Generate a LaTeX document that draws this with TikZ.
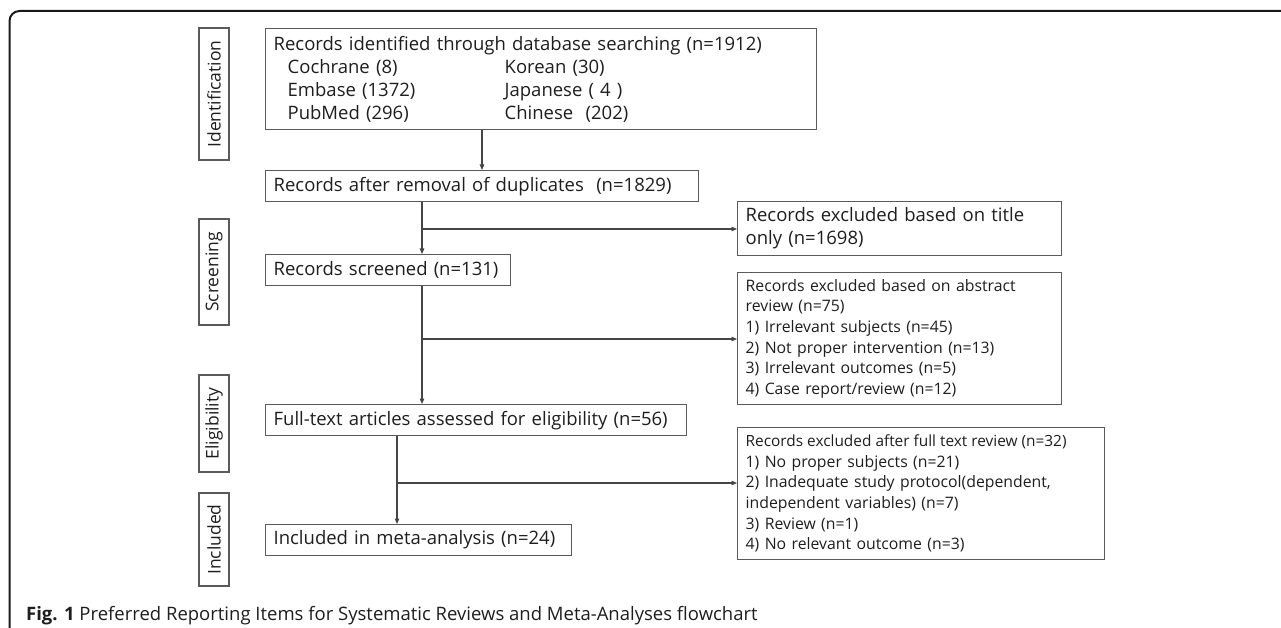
\documentclass[tikz,border=0pt]{standalone}
\usepackage{fontspec}
\setmainfont{Open Sans}
\usetikzlibrary{arrows.meta}
\definecolor{boxgray}{HTML}{5A5A5A}
\definecolor{linegray}{HTML}{454545}
\definecolor{txt}{HTML}{1E1E1E}
\newcommand\widesp{\spaceskip=5.4pt plus 1pt minus 1pt\relax}
\newcommand\normsp{\spaceskip=0pt\relax}
\begin{document}
\begin{tikzpicture}[x=1pt,y=-1pt,
  box/.style={draw=boxgray, line width=1.3pt, anchor=north west, inner xsep=8pt, inner ysep=0pt,
    align=left, text=txt, font=\fontsize{18.5}{23}\selectfont},
  smallbox/.style={box, font=\fontsize{15.8}{20.6}\selectfont},
  stage/.style={draw=boxgray, line width=1.3pt, rotate=90, inner sep=0pt, minimum height=30pt,
    text=txt, font=\fontsize{17.5}{20}\selectfont},
  arr/.style={draw=linegray, line width=1.1pt, -{Triangle[length=5.5pt,width=4.5pt]}}
]
\useasboundingbox (0,0) rectangle (1281,628);
% frame
\draw[line width=2pt, black!90, rounded corners=10pt] (9.5,640) -- (9.5,11) -- (1290,11);

% stage labels
\node[stage, minimum width=132pt] (sid) at (214,94) {Identification};
\node[stage, minimum width=106pt] (sscr) at (214,272) {Screening};
\node[stage, minimum width=97pt] (selig) at (214,423.5) {Eligibility};
\node[stage, minimum width=93pt] (sinc) at (214,539.5) {Included};

% main boxes
\node[box, text width=535pt, minimum height=101pt] (b1) at (265,28)
 {Records identified through database searching (n=1912)\\
  \hspace*{14pt}\makebox[217pt][l]{Cochrane (8)}Korean (30)\\
  \hspace*{14pt}\makebox[217pt][l]{Embase (1372)}Japanese ( 4 )\\
  \hspace*{14pt}\makebox[217pt][l]{PubMed (296)}Chinese\ \ (202)};
\node[box, text width=417pt, minimum height=31pt] (b2) at (265,170)
 {Records after removal of duplicates\ \ (n=1829)};
\node[box, text width=229pt, minimum height=31pt] (b3) at (265,254)
 {\mbox{Records screened (n=131)}};
\node[box, text width=405pt, minimum height=31pt] (b4) at (265,404)
 {\mbox{Full-text articles assessed for eligibility (n=56)}};
\node[box, text width=290pt, minimum height=31pt] (b5) at (265,524)
 {\mbox{Included in meta-analysis (n=24)}};

% exclusion boxes
\node[box, text width=308pt, minimum height=54pt] (e1) at (737,201)
 {\mbox{Records excluded based on title}\\only (n=1698)};
\node[smallbox, text width=308pt, minimum height=132pt] (e2) at (737,272)
 {\widesp\mbox{Records excluded based on abstract}\\review (n=75)\\1) Irrelevant subjects (n=45)\\2) Not proper intervention\ (n=13)\\3) Irrelevant outcomes (n=5)\\4) Case report/review\ (n=12)};
\node[smallbox, text width=351pt, minimum height=132pt] (e3) at (737,427)
 {\widesp\mbox{\fontsize{15.4}{20.6}\selectfont\normsp Records excluded after full text review (n=32)}\\1) No proper subjects (n=21)\\\mbox{2) Inadequate study protocol(dependent,}\\independent variables) (n=7)\\3) Review\ (n=1)\\4) No relevant outcome\ (n=3)};

% connectors
\coordinate (xa) at (482,0);
\coordinate (xb) at (422,0);
\coordinate (xc) at (397,0);
\coordinate (ya) at (0,229);
\coordinate (yb) at (0,339);
\coordinate (yc) at (0,483);
\draw[arr] (b1.south -| xa) -- (b2.north -| xa);
\draw[arr] (b2.south -| xb) -- (b3.north -| xb);
\draw[arr] (xb |- ya) -- (e1.west |- ya);
\draw[arr] (b3.south -| xb) -- (b4.north -| xb);
\draw[arr] (xb |- yb) -- (e2.west |- yb);
\draw[arr] (b4.south -| xc) -- (b5.north -| xc);
\draw[arr] (xc |- yc) -- (e3.west |- yc);

% caption
\node[anchor=base west, inner sep=0pt, text=txt, font=\fontsize{18.5}{22}\selectfont] (cap) at (26,620.5)
 {\textbf{Fig. 1} Preferred Reporting Items for Systematic Reviews and Meta-Analyses flowchart};
\end{tikzpicture}
\end{document}
